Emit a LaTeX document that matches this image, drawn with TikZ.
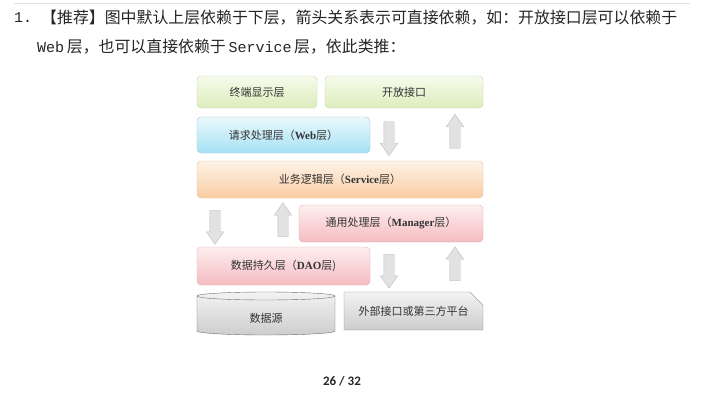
\documentclass[tikz,border=0pt]{standalone}
\usepackage{fontspec}
\setmainfont{Liberation Serif}
\newfontfamily\cjk{Noto Sans CJK SC}
\newfontfamily\mono{Liberation Mono}
\newfontfamily\pagefont{Carlito}
\usepackage{tikz}
\usetikzlibrary{shapes.arrows,shapes.misc}

\definecolor{gTop}{HTML}{F6FBEC}\definecolor{gBot}{HTML}{DCEDBC}\definecolor{gLine}{HTML}{C9D7B0}
\definecolor{bTop}{HTML}{EAF9FD}\definecolor{bBot}{HTML}{A6E1F3}\definecolor{bLine}{HTML}{9CCBDB}
\definecolor{oTop}{HTML}{FEF3E7}\definecolor{oBot}{HTML}{F9CCA2}\definecolor{oLine}{HTML}{EBC4A4}
\definecolor{pTop}{HTML}{FDEEEF}\definecolor{pBot}{HTML}{F5BCC1}\definecolor{pLine}{HTML}{E6AEB3}
\definecolor{cTop}{HTML}{F3F3F3}\definecolor{cBot}{HTML}{CDCDCD}\definecolor{cLine}{HTML}{6E6E6E}
\definecolor{aFill}{HTML}{E2E2E2}\definecolor{aLine}{HTML}{BEBEBE}

\newcommand{\lat}[1]{{\rmfamily\bfseries #1}}
\newcommand{\mlat}[1]{{\mono\fontsize{15}{17}\selectfont #1}}

\begin{document}
\begin{tikzpicture}[x = 1pt, y = -1pt,
    layer/.style = {rounded corners = 4pt, inner sep = 0, text = black!80,
        font = \cjk\fontsize{11}{13}\selectfont},
    greenbox/.style = {layer, top color = gTop, bottom color = gBot, draw = gLine},
    bluebox/.style = {layer, top color = bTop, bottom color = bBot, draw = bLine},
    orangebox/.style = {layer, top color = oTop, bottom color = oBot, draw = oLine},
    pinkbox/.style = {layer, top color = pTop, bottom color = pBot, draw = pLine},
    blockarrow/.style = {single arrow, draw = aLine, fill = aFill, inner sep = 5pt,
        minimum height = 34pt, single arrow head extend = 3.5pt,
        single arrow tip angle = 70}]
    \useasboundingbox (0, 0) rectangle (711, 412);
    \fill[white] (0, 0) rectangle (711, 412);
    \draw[black!12] (14, 3) -- (690, 3);

    %% text
    \begin{scope}[every node/.style = {inner sep = 0, anchor = west, text = black!85}]
        \node (num) at (14, 18) {\mlat{1.}};
        \node (line1) at (41, 18) {\cjk\fontsize{15.9}{18}\selectfont
            【推荐】图中默认上层依赖于下层，箭头关系表示可直接依赖，如：开放接口层可以依赖于};
        \node (line2) at (37, 47) {\cjk\fontsize{15.9}{18}\selectfont
            \mlat{Web}\,层，也可以直接依赖于\,\mlat{Service}\,层，依此类推：};
    \end{scope}

    %% layers
    \node[greenbox, minimum width = 120pt, minimum height = 32pt] (term) at (257, 92) {终端显示层};
    \node[greenbox, minimum width = 158pt, minimum height = 32pt] (open) at (404, 92) {开放接口};
    \node[bluebox, minimum width = 173pt, minimum height = 36pt] (web) at (283.5, 135)
        {请求处理层（\lat{Web}层）};
    \node[orangebox, minimum width = 286pt, minimum height = 37pt] (service) at (340, 179.5)
        {业务逻辑层（\lat{Service}层）};
    \node[pinkbox, minimum width = 184pt, minimum height = 37pt] (manager) at (391, 223.5)
        {通用处理层（\lat{Manager}层）};
    \node[pinkbox, minimum width = 173pt, minimum height = 38pt] (dao) at (283.5, 266)
        {数据持久层（\lat{DAO}层)};

    %% data source
    \shade[top color = cTop, bottom color = cBot, draw = cLine]
        (197, 296) -- (197, 331) arc[start angle = 180, end angle = 360, x radius = 69pt, y radius = 4pt]
        -- (335, 296) arc[start angle = 0, end angle = 180, x radius = 69pt, y radius = 4pt] -- cycle;
    \draw[cLine] (197, 296) arc[start angle = 180, end angle = 360, x radius = 69pt, y radius = 4pt];
    \node[layer] (source) at (266, 318) {数据源};
    \node[layer, rounded corners = 0, chamfered rectangle, chamfered rectangle corners = north east,
        chamfered rectangle xsep = 8pt, chamfered rectangle ysep = 8pt,
        top color = cTop, bottom color = cBot, draw = cLine!80,
        minimum width = 139pt, minimum height = 38pt] (ext) at (413.5, 311) {外部接口或第三方平台};

    %% arrows
    \foreach \n/\xd/\xu/\y in {1/389/455/135, 2/215/283/223.5, 3/389/455/267.5} {
        \node[blockarrow, rotate = -90] (dn\n) at (\xd, \y) {};
        \node[blockarrow, rotate = 90] (up\n) at (\xu, \y) {};
    }

    %% page
    \node[inner sep = 0, text = black!85] (page) at (342, 381)
        {\pagefont\bfseries\fontsize{13}{15}\selectfont 26 / 32};
\end{tikzpicture}
\end{document}
